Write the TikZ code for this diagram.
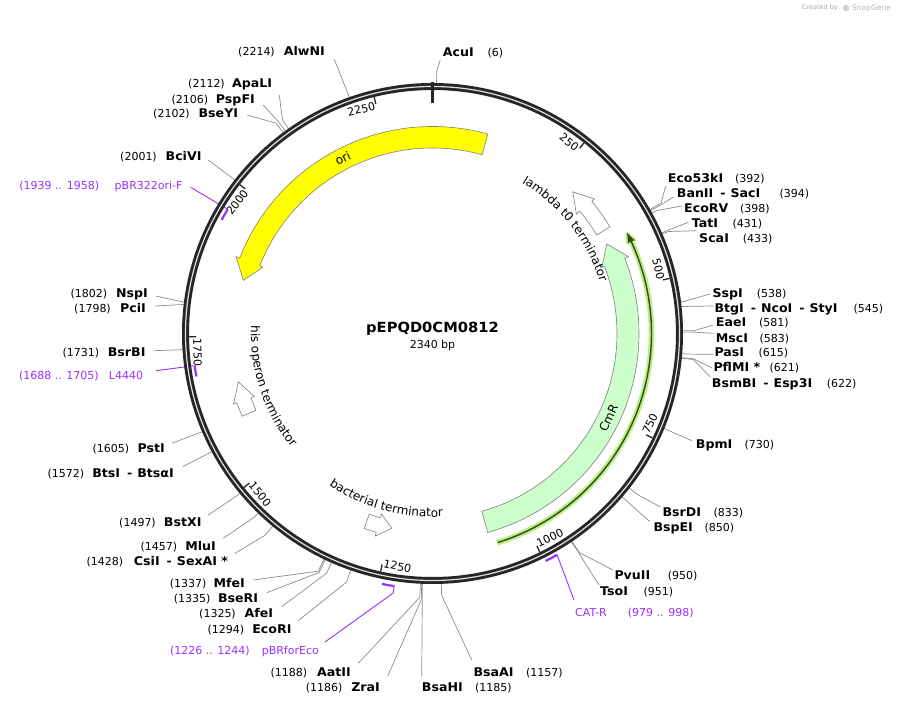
\documentclass[tikz,border=0pt]{standalone}
\usepackage{fontspec}
\setmainfont{DejaVu Sans}
\newfontfamily\bnmfont[FakeStretch=1.05]{DejaVu Sans}
\usetikzlibrary{calc,decorations.text}
\definecolor{ringc}{HTML}{262626}
\definecolor{leadc}{HTML}{8C8C8C}
\definecolor{primc}{HTML}{9B30FF}
\definecolor{oric}{HTML}{FFFF00}
\definecolor{cmrc}{HTML}{CCFFCC}
\definecolor{orfc}{HTML}{3A4720}
\definecolor{orfh}{HTML}{B6F07E}
\definecolor{featc}{HTML}{808080}
\definecolor{wmc}{HTML}{A9B7C2}
\newcommand\fsm{\fontsize{11}{13}\selectfont}
\newcommand\fnm{\bnmfont\fontsize{12}{14}\selectfont\bfseries}
\newcommand\fft{\fontsize{12}{14}\selectfont}
\newcommand\dsh{\hspace{7pt}-\hspace{5pt}}
\newcommand\site[4]{%
  \coordinate (#1r) at ($(C)+({(#2)*0.1538461538-90}:250)$);
  \coordinate (#1e) at ($(C)+({(#2)*0.1538461538-90}:#3)$);
  \draw[leader] (#1r) -- (#1e) -- #4;}
\tikzset{
  lbl/.style={inner sep=0pt, text height=8.4pt, text depth=0pt},
  nmR/.style={lbl, anchor=west, font=\fnm},
  nmL/.style={lbl, anchor=east, font=\fnm},
  numR/.style={lbl, anchor=west, font=\fsm},
  numL/.style={lbl, anchor=east, font=\fsm},
  prR/.style={numR, text=primc},
  prL/.style={numL, text=primc},
  leader/.style={draw=leadc, line width=0.7pt},
  pleader/.style={draw=primc, line width=0.9pt},
  pmark/.style={draw=primc, line width=2.2pt},
  tickl/.style={lbl, font=\fsm, inner xsep=1.2pt},
  feat/.style={draw=featc, line width=0.6pt, line join=miter},
}
\begin{document}
\begin{tikzpicture}[x=1pt,y=-1pt]
\useasboundingbox (0,0) rectangle (898,706);
\fill[white] (0,0) rectangle (898,706);
\coordinate (C) at (432.5,333.5);

% ---------- right-side labels ----------
\node[nmR] (nAcuI) at (442.7,52) {AcuI};          \node[numR] (uAcuI) at (487.3,52) {(6)};
\node[nmR] (nEco53kI) at (667.7,178.3) {Eco53kI}; \node[numR] (uEco53kI) at (735,178.3) {(392)};
\node[nmR] (nBanII) at (676.7,193.3) {BanII\dsh SacI}; \node[numR] (uBanII) at (779.3,193.3) {(394)};
\node[nmR] (nEcoRV) at (684,208.3) {EcoRV};       \node[numR] (uEcoRV) at (740,208.3) {(398)};
\node[nmR] (nTatI) at (691.7,223.3) {TatI};       \node[numR] (uTatI) at (732.3,223.3) {(431)};
\node[nmR] (nScaI) at (699,238.3) {ScaI};         \node[numR] (uScaI) at (742.7,238.3) {(433)};
\node[nmR] (nSspI) at (712.3,293.3) {SspI};       \node[numR] (uSspI) at (756.7,293.3) {(538)};
\node[nmR] (nBtgI) at (714.3,308.3) {BtgI\dsh NcoI\dsh StyI}; \node[numR] (uBtgI) at (853.3,308.3) {(545)};
\node[nmR] (nEaeI) at (715.7,322.7) {EaeI};       \node[numR] (uEaeI) at (759,322.7) {(581)};
\node[nmR] (nMscI) at (715.7,338.3) {MscI};       \node[numR] (uMscI) at (759.3,338.3) {(583)};
\node[nmR] (nPasI) at (714.3,352.7) {PasI};       \node[numR] (uPasI) at (758.3,352.7) {(615)};
\node[nmR] (nPflMI) at (713.3,367.7) {PflMI *};   \node[numR] (uPflMI) at (769.3,367.7) {(621)};
\node[nmR] (nBsmBI) at (711.7,383.3) {BsmBI\dsh Esp3I}; \node[numR] (uBsmBI) at (826.7,383.3) {(622)};
\node[nmR] (nBpmI) at (695.7,444.3) {BpmI};       \node[numR] (uBpmI) at (744.3,444.3) {(730)};
\node[nmR] (nBsrDI) at (662.3,512.7) {BsrDI};     \node[numR] (uBsrDI) at (713.3,512.7) {(833)};
\node[nmR] (nBspEI) at (653.3,527.7) {BspEI};     \node[numR] (uBspEI) at (704.3,527.7) {(850)};
\node[nmR] (nPvuII) at (614.3,575.7) {PvuII};     \node[numR] (uPvuII) at (667.7,575.7) {(950)};
\node[nmR] (nTsoI) at (600,591) {TsoI};           \node[numR] (uTsoI) at (643.3,591) {(951)};
\node[prR] (nCATR) at (575,612.3) {CAT-R};        \node[prR] (uCATR) at (627.7,612.3) {(979 .. 998)};
\node[nmR] (nBsaAI) at (473.3,672.7) {BsaAI};     \node[numR] (uBsaAI) at (526,672.7) {(1157)};
\node[nmR] (nBsaHI) at (421.7,687.3) {BsaHI};     \node[numR] (uBsaHI) at (475,687.3) {(1185)};

% ---------- left-side labels ----------
\node[nmL] (nZraI) at (380,687.3) {ZraI};         \node[numL] (uZraI) at (342.7,687.3) {(1186)};
\node[nmL] (nAatII) at (351,672.7) {AatII};       \node[numL] (uAatII) at (307.3,672.7) {(1188)};
\node[prL] (npBR) at (319,650) {pBRforEco};       \node[prL] (upBR) at (250,650) {(1226 .. 1244)};
\node[nmL] (nEcoRI) at (291.7,629) {EcoRI};       \node[numL] (uEcoRI) at (244.3,629) {(1294)};
\node[nmL] (nAfeI) at (273.3,613.3) {AfeI};       \node[numL] (uAfeI) at (236,613.3) {(1325)};
\node[nmL] (nBseRI) at (258.3,598.3) {BseRI};     \node[numL] (uBseRI) at (210.7,598.3) {(1335)};
\node[nmL] (nMfeI) at (245,583.3) {MfeI};         \node[numL] (uMfeI) at (206.7,583.3) {(1337)};
\node[nmL] (nCsiI) at (228.3,561.7) {CsiI\dsh SexAI *}; \node[numL] (uCsiI) at (123.3,561.7) {(1428)};
\node[nmL] (nMluI) at (216,546.7) {MluI};         \node[numL] (uMluI) at (177.3,546.7) {(1457)};
\node[nmL] (nBstXI) at (201.7,522.7) {BstXI};     \node[numL] (uBstXI) at (156,522.7) {(1497)};
\node[nmL] (nBtsI) at (174,473.3) {BtsI\dsh BtsαI}; \node[numL] (uBtsI) at (84.3,473.3) {(1572)};
\node[nmL] (nPstI) at (165,448.3) {PstI};         \node[numL] (uPstI) at (129.3,448.3) {(1605)};
\node[prL] (nL4440) at (143.3,375) {L4440};       \node[prL] (uL4440) at (99,375) {(1688 .. 1705)};
\node[nmL] (nBsrBI) at (145.7,352.7) {BsrBI};     \node[numL] (uBsrBI) at (99.3,352.7) {(1731)};
\node[nmL] (nPciI) at (146,308.3) {PciI};         \node[numL] (uPciI) at (111,308.3) {(1798)};
\node[nmL] (nNspI) at (148,293.3) {NspI};         \node[numL] (uNspI) at (107.3,293.3) {(1802)};
\node[prL] (nOriF) at (182.7,185) {pBR322ori-F};  \node[prL] (uOriF) at (99.3,185) {(1939 .. 1958)};
\node[nmL] (nBciVI) at (201.7,156) {BciVI};       \node[numL] (uBciVI) at (157,156) {(2001)};
\node[nmL] (nBseYI) at (238.3,113.3) {BseYI};     \node[numL] (uBseYI) at (190,113.3) {(2102)};
\node[nmL] (nPspFI) at (255,99) {PspFI};          \node[numL] (uPspFI) at (208.3,99) {(2106)};
\node[nmL] (nApaLI) at (272.3,83.3) {ApaLI};      \node[numL] (uApaLI) at (225,83.3) {(2112)};
\node[nmL] (nAlwNI) at (325,51.7) {AlwNI};        \node[numL] (uAlwNI) at (275,51.7) {(2214)};

% ---------- primer leaders crossing the ring ----------
\coordinate (oriFp) at ($(C)+(211.23:241)$);
\draw[pleader] ($(nOriF.east)+(8,2.3)$) -- (oriFp);
\coordinate (L4440p) at ($(C)+(172.31:241)$);
\draw[pleader] ($(nL4440.east)+(12.7,-4.3)$) -- (L4440p);

% ---------- restriction-site leaders ----------
\site{AcuI}{6}{262}{($(nAcuI.west)+(-2.5,8)$)}
\site{Eco}{392}{263}{($(nEco53kI.west)+(-2,7.7)$)}
\site{BanII}{394}{260}{($(nBanII.west)+(-2.7,3.4)$)}
\site{EcoRV}{398}{255}{($(nEcoRV.west)+(-2.3,-2.3)$)}
\site{TatI}{431}{257}{($(nTatI.west)+(-3.4,-1)$)}
\site{ScaI}{433}{257}{($(nScaI.west)+(-2.3,-7.6)$)}
\site{SspI}{538}{252}{($(nSspI.west)+(-2.3,0.7)$)}
\site{BtgI}{545}{252}{($(nBtgI.west)+(-1,-2.3)$)}
\site{EaeI}{581}{262}{($(nEaeI.west)+(-2.4,2.3)$)}
\site{MscI}{583}{260}{($(nMscI.west)+(-2.4,-5)$)}
\site{PasI}{615}{256}{($(nPasI.west)+(-1,1.6)$)}
\site{PflMI}{621}{262}{($(nPflMI.west)+(-1.6,0)$)}
\site{BsmBI}{622}{262}{($(nBsmBI.west)+(-1.7,-6.6)$)}
\site{BpmI}{730}{252}{($(nBpmI.west)+(-4,-3.6)$)}
\site{BsrDI}{833}{261}{($(nBsrDI.west)+(-2.3,-6)$)}
\site{BspEI}{850}{253}{($(nBspEI.west)+(-3.3,-6)$)}
\site{PvuII}{950}{264}{($(nPvuII.west)+(-1.3,-5.7)$)}
\site{TsoI}{951}{261}{($(nTsoI.west)+(-1,-6)$)}
\site{BsaAI}{1157}{262}{($(nBsaAI.west)+(-1.6,-12.7)$)}
\site{BsaHI}{1185}{252}{($(nBsaHI.west)+(0,-11.3)$)}
\site{ZraI}{1186}{267}{($(nZraI.east)+(7.7,-11.3)$)}
\site{AatII}{1188}{264}{($(nAatII.east)+(7.3,-9.4)$)}
\site{EcoRI}{1294}{263}{($(nEcoRI.east)+(6.6,-8.3)$)}
\site{AfeI}{1325}{262}{($(nAfeI.east)+(8.4,-6.6)$)}
\site{BseRI}{1335}{264.5}{($(nBseRI.east)+(8.4,-5.6)$)}
\site{MfeI}{1337}{263.7}{($(nMfeI.east)+(8.3,-3.3)$)}
\site{CsiI}{1428}{262}{($(nCsiI.east)+(6.7,-8.4)$)}
\site{MluI}{1457}{256}{($(nMluI.east)+(7.3,-8.4)$)}
\site{BstXI}{1497}{252}{($(nBstXI.east)+(6.6,-7.7)$)}
\site{BtsI}{1572}{252}{($(nBtsI.east)+(8.7,-6.6)$)}
\site{PstI}{1605}{252}{($(nPstI.east)+(6.7,-5)$)}
\site{BsrBI}{1731}{252}{($(nBsrBI.east)+(8.3,-2)$)}
\site{PciI}{1798}{252}{($(nPciI.east)+(9,-2.3)$)}
\site{NspI}{1802}{252}{($(nNspI.east)+(7.7,2.7)$)}
\site{BciVI}{2001}{252}{($(nBciVI.east)+(6.6,4)$)}
\site{BseYI}{2102}{262}{($(nBseYI.east)+(9,1.7)$)}
\site{PspFI}{2106}{262}{($(nPspFI.east)+(8,6)$)}
\site{ApaLI}{2112}{261}{($(nApaLI.east)+(7,11.7)$)}
\site{AlwNI}{2214}{252}{($(nAlwNI.east)+(9.3,7.6)$)}

% ---------- backbone ----------
\draw[ringc, line width=7pt] (C) circle[radius=247];
\draw[white!88!black, line width=1.2pt] (C) circle[radius=247];
\draw[ringc, line width=2.8pt] ($(C)+(-90:251)$) -- ($(C)+(-90:230.5)$);

\foreach \p in {250,500,...,2250}{%
  \pgfmathsetmacro\al{\p*0.1538461538}
  \pgfmathsetmacro\th{\al-90}
  \draw[ringc, line width=1.3pt] ($(C)+(\th:243.5)$) -- ($(C)+(\th:236.5)$);
  \pgfmathsetmacro\fl{(\al>90)&&(\al<270)}
  \ifdim\fl pt>0.5pt
    \node[tickl, anchor=west, rotate=180-\al] (tk\p) at ($(C)+(\th:235)$) {\p};
  \else
    \node[tickl, anchor=east, rotate=-\al] (tk\p) at ($(C)+(\th:235)$) {\p};
  \fi
}

\begin{scope}[shift={(C)}]
% ori
\filldraw[feat, fill=oric] (195.7:196.5) -- (201.4:211) -- (201.4:207)
  arc[start angle=201.4, end angle=285.5, radius=207] -- (285.5:185.5)
  arc[start angle=285.5, end angle=201.4, radius=185.5] -- (201.4:182) -- cycle;
\node[lbl, font=\fft, rotate=27.1] (orilab) at (242.9:196.5) {ori};
% CmR
\filldraw[feat, fill=cmrc] (-27.2:196) -- (-21.4:210.5) -- (-21.4:206.5)
  arc[start angle=-21.4, end angle=74.5, radius=206.5] -- (74.5:184.5)
  arc[start angle=74.5, end angle=-21.4, radius=184.5] -- (-21.4:182) -- cycle;
\node[lbl, font=\fft, rotate=64.3] (cmrlab) at (25.7:195.5) {CmR};
% ORF line
\draw[orfh, line width=5.5pt] (72.9:219) arc[start angle=72.9, end angle=-25, radius=219];
\filldraw[orfh, line width=3pt, line join=round] (-27.3:219) -- (-24.8:223) -- (-24.8:215) -- cycle;
\draw[orfc, line width=1.4pt] (72.6:219) arc[start angle=72.6, end angle=-25, radius=219];
\fill[orfc] (-27.3:219) -- (-24.8:222.5) -- (-24.8:215.5) -- cycle;
% lambda t0 terminator
\filldraw[feat, fill=white] (-45.3:199.4) -- (-39.7:210.5) -- (-39.7:207)
  arc[start angle=-39.7, end angle=-31, radius=207] -- (-31:191.5)
  arc[start angle=-31, end angle=-39.7, radius=191.5] -- (-39.7:187) -- cycle;
% his operon terminator
\filldraw[feat, fill=white] (166:200) -- (160.5:211) -- (160.5:207.5)
  arc[start angle=160.5, end angle=156.5, radius=207.5] -- (156.5:192.5)
  arc[start angle=156.5, end angle=160.5, radius=192.5] -- (160.5:189) -- cycle;
% bacterial terminator
\filldraw[feat, fill=white] (101.8:199) -- (105.8:210.5) -- (105.8:206.5)
  arc[start angle=105.8, end angle=109.3, radius=206.5] -- (109.3:191.5)
  arc[start angle=109.3, end angle=105.8, radius=191.5] -- (105.8:187.5) -- cycle;
% curved feature labels
\path[decorate, decoration={text along path, text={|\fft|lambda t0 terminator}, text align=center}]
  (-68.15:175) arc[start angle=-68.15, end angle=-8.15, radius=175];
\path[decorate, decoration={text along path, text={|\fft|his operon terminator}, text align=center}]
  (191.75:181.5) arc[start angle=191.75, end angle=131.75, radius=181.5];
\path[decorate, decoration={text along path, text={|\fft|bacterial terminator}, text align=center}]
  (135.5:183.5) arc[start angle=135.5, end angle=75.5, radius=183.5];
% primer marks
\draw[pmark] (208.31:239.5) arc[start angle=208.31, end angle=211.23, radius=239.5];
\draw[pmark] (169.69:240) arc[start angle=169.69, end angle=172.31, radius=240];
\draw[pmark] (98.62:255.5) arc[start angle=98.62, end angle=101.38, radius=255.5];
\draw[pmark] (60.62:254) arc[start angle=60.62, end angle=63.54, radius=254];
\coordinate (pBRa) at (98.62:255.5);
\coordinate (pBRb) at (98.62:262.5);
\coordinate (CATa) at (60.62:254);
\end{scope}
\draw[pleader] (pBRa) -- (pBRb) -- ($(npBR.east)+(6,-8)$);
\draw[pleader] (CATa) -- ($(nCATR.west)+(-1,-12.3)$);

% ---------- title ----------
\node[inner sep=0pt, font=\bnmfont\fontsize{14}{16}\selectfont\bfseries] (title) at (432.5,329) {pEPQD0CM0812};
\node[lbl, font=\fsm] (size) at (432.5,344) {2340 bp};

% ---------- watermark ----------
\node[inner sep=0pt, anchor=east, font=\fontsize{6.5}{7}\selectfont, text=black!35] (wm1) at (838,8) {Created by};
\fill[wmc!60] (846,8) circle[radius=3.3];
\node[inner sep=0pt, anchor=west, font=\fontsize{7.5}{8}\selectfont, text=wmc] (wm2) at (852,8) {SnapGene};
\end{tikzpicture}
\end{document}
